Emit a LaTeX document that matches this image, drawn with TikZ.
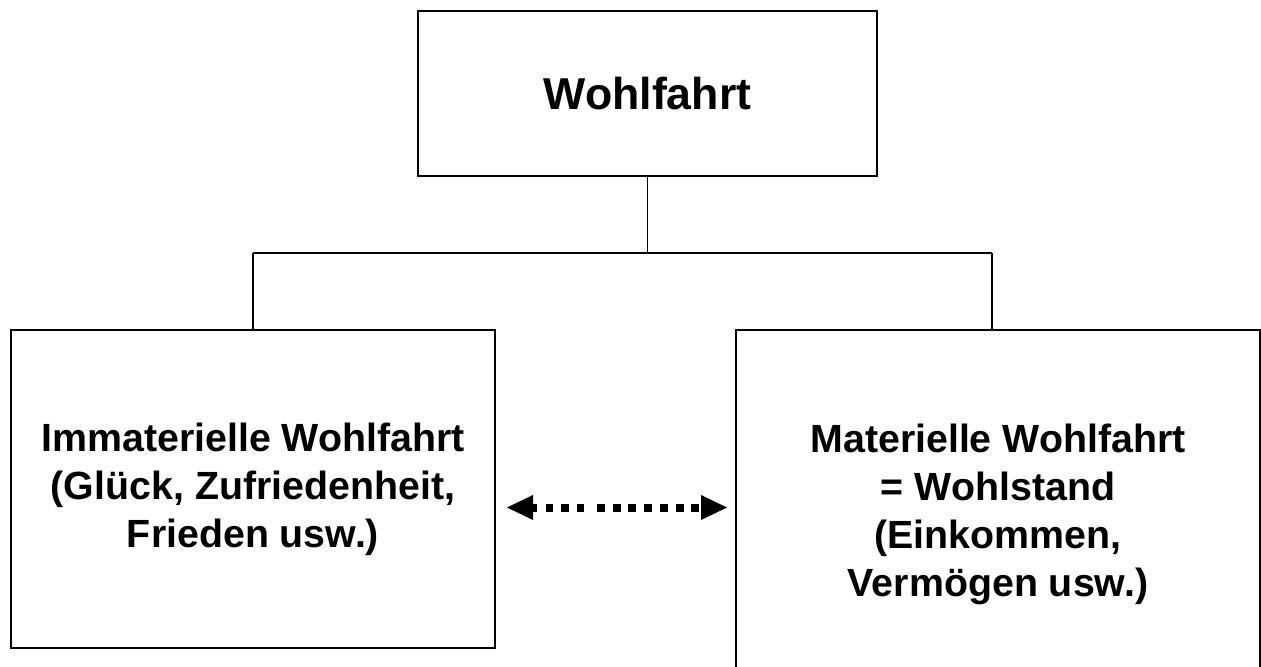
\documentclass[tikz,border=0pt]{standalone}
\usepackage{fontspec}
\setmainfont{Liberation Sans}
\usetikzlibrary{arrows.meta, calc}

\tikzset{
    box/.style={draw, line width=1.2pt, inner sep=0pt, outer sep=0pt, align=center,
        font=\fontsize{29.5}{36}\selectfont\bfseries},
    link/.style={line width=1.2pt},
    dotarrow/.style={line width=6pt,
        dash pattern=on 3pt off 6.75pt on 5.6pt off 6pt on 5.6pt off 6pt on 5.6pt off 9.4pt
            on 6pt off 5.8pt on 6pt off 5.8pt on 6pt off 5.8pt on 6pt off 5.8pt
            on 6pt off 5.8pt on 6pt off 5.8pt on 6pt off 15pt,
        {Triangle[length=19.5pt, width=18.75pt, line width=0pt]}-{Triangle[length=19.5pt, width=18.75pt, line width=0pt]}}
}

\begin{document}
\begin{tikzpicture}[x=0.75pt, y=-0.75pt]
    \useasboundingbox (0,0) rectangle (1261,667);

    \node[box, minimum width=344.25pt, minimum height=123.75pt,
        font=\fontsize{33.5}{40}\selectfont\bfseries] (wf) at (647.5, 93.5) {Wohlfahrt};
    \node[box, minimum width=363pt, minimum height=238.5pt] (imm) at (253, 489)
        {Immaterielle Wohlfahrt\\(Glück, Zufriedenheit,\\Frieden usw.)};
    \node[box, minimum width=393pt, minimum height=276.75pt] (mat) at (998, 514.5)
        {Materielle Wohlfahrt\\= Wohlstand\\(Einkommen,\\ Vermögen usw.)};

    \coordinate (BL) at (253, 253);
    \coordinate (BR) at (992, 253);
    \coordinate (AL) at (507, 507.5);
    \coordinate (AR) at (727, 507.5);

    \draw[link] (wf.south) -- (wf.south |- BL);
    \draw[link] (BL) -- (BR);
    \draw[link] (BL) -- (BL |- imm.north);
    \draw[link] (BR) -- (BR |- mat.north);

    \draw[dotarrow] (AL) -- (AR);
\end{tikzpicture}
\end{document}
